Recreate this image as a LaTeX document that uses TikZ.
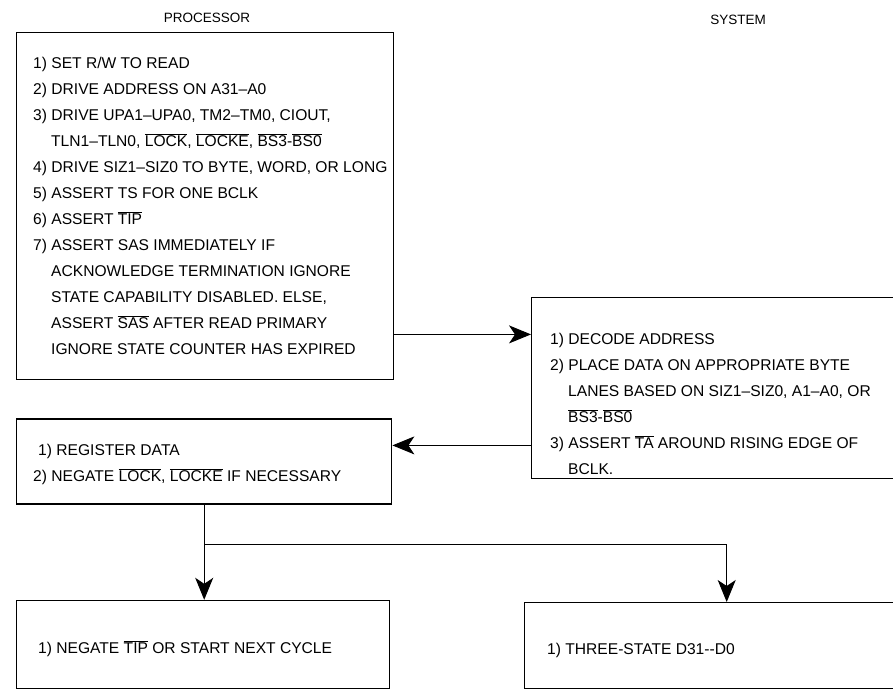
\documentclass[tikz,border=0pt]{standalone}
\usepackage{fontspec}
\setmainfont{Liberation Sans}
\usetikzlibrary{positioning,arrows.meta}
\newcommand{\ovl}[1]{$\overline{\mbox{#1}}$}
\newcommand{\ind}{\hspace*{18pt}}
\tikzset{
  blk/.style={rectangle, draw=black, line width=1.4pt, inner sep=0pt},
  txt/.style={anchor=west, align=left, inner sep=0pt, font=\fontsize{15.6}{26}\selectfont},
  head/.style={inner sep=0pt, font=\fontsize{13.5}{15}\selectfont},
  flow/.style={-{Stealth[length=22pt, width=18pt, inset=6pt]}, line width=1pt},
}

\begin{document}
\begin{tikzpicture}[x=1pt, y=-1pt]
  \fill[white] (0,0) rectangle (893,690);
  \useasboundingbox (0,0) rectangle (893,690);
  \clip (0,0) rectangle (893,690);
  \node[head] (plbl) at (207,18) {PROCESSOR};
  \node[head] (slbl) at (738,20) {SYSTEM};
  \node[blk, minimum width=377pt, minimum height=347pt, anchor=north west] (cpu) at (16,32) {};
  \node[blk, minimum width=375pt, minimum height=85pt, below=38pt of cpu.south west, anchor=north west] (reg) {};
  \node[blk, minimum width=373pt, minimum height=88pt, below=95pt of reg.south west, anchor=north west] (nxt) {};
  \node[blk, minimum width=400pt, minimum height=181pt, anchor=north west] (sys) at (531,297) {};
  \node[blk, minimum width=404pt, minimum height=86pt, anchor=north west] (tri) at (524,602) {};
  \node[txt] (cputxt) at ([xshift=17pt]cpu.west) {1) SET R/W TO READ\\
    2) DRIVE ADDRESS ON A31--A0\\
    3) DRIVE UPA1--UPA0, TM2--TM0, CIOUT,\\
    \ind TLN1--TLN0, \ovl{LOCK}, \ovl{LOCKE}, \ovl{BS3}-\ovl{BS0}\\
    4) DRIVE SIZ1--SIZ0 TO BYTE, WORD, OR LONG\\
    5) ASSERT TS FOR ONE BCLK\\
    6) ASSERT \ovl{TIP}\\
    7) ASSERT SAS IMMEDIATELY IF\\
    \ind ACKNOWLEDGE TERMINATION IGNORE\\
    \ind STATE CAPABILITY DISABLED. ELSE,\\
    \ind ASSERT \ovl{SAS} AFTER READ PRIMARY\\
    \ind IGNORE STATE COUNTER HAS EXPIRED};
  \node[txt] (systxt) at ([xshift=19pt, yshift=-16pt]sys.west) {1) DECODE ADDRESS\\
    2) PLACE DATA ON APPROPRIATE BYTE\\
    \ind LANES BASED ON SIZ1--SIZ0, A1--A0, OR\\
    \ind \ovl{BS3}-\ovl{BS0}\\
    3) ASSERT \ovl{TA} AROUND RISING EDGE OF\\
    \ind BCLK.};
  \node[txt] (regtxt) at ([xshift=17pt, yshift=-3pt]reg.west) {\hspace*{5pt}1) REGISTER DATA\\
    2) NEGATE \ovl{LOCK}, \ovl{LOCKE} IF NECESSARY};
  \node[txt] (nxttxt) at ([xshift=22pt, yshift=-4pt]nxt.west) {1) NEGATE \ovl{TIP} OR START NEXT CYCLE};
  \node[txt] (tritxt) at ([xshift=23pt, yshift=-5pt]tri.west) {1) THREE-STATE D31-{}-D0};
  \coordinate (req) at ([yshift=46pt]cpu.south east);
  \coordinate (ack) at ([yshift=34pt]sys.south west);
  \coordinate (fork) at ([yshift=-40pt]reg.south);
  \draw[flow] (req) -- (req -| sys.west);
  \draw[flow] (ack) -- (ack -| reg.east);
  \draw[flow] (reg.south) -- (reg.south |- nxt.north);
  \draw[flow] (fork) -| (tri.north);
\end{tikzpicture}
\end{document}
